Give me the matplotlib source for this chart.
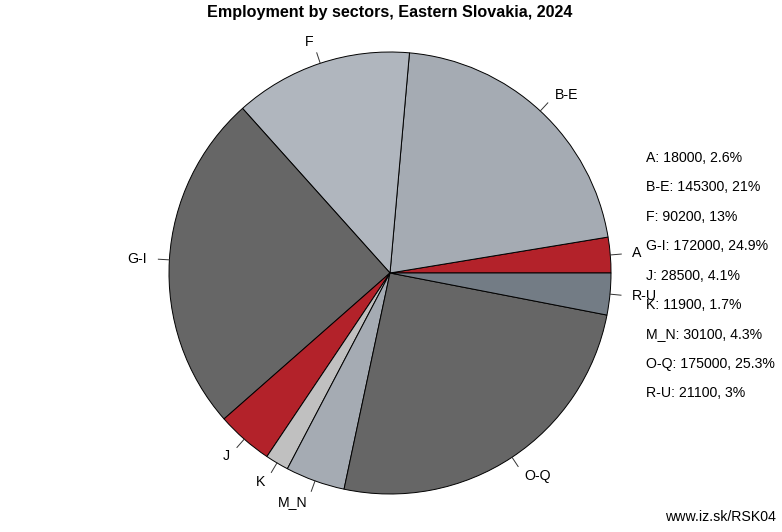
import numpy as np
import matplotlib
matplotlib.use("Agg")
import matplotlib.pyplot as plt

plt.rcParams['font.family'] = ['Liberation Sans', 'DejaVu Sans']

sectors = ["A", "B-E", "F", "G-I", "J", "K", "M_N", "O-Q", "R-U"]
employed = [18000, 145300, 90200, 172000, 28500, 11900, 30100, 175000, 21100]
shares = ["2.6%", "21%", "13%", "24.9%", "4.1%", "1.7%", "4.3%", "25.3%", "3%"]
colors = ["#b3222a", "#a5abb3", "#b0b6be", "#666666", "#b3222a",
          "#c0c0c0", "#a5abb3", "#666666", "#737c85"]

W, H = 782, 532
fig = plt.figure(figsize=(W / 100, H / 100), dpi=100)
ax = fig.add_axes([0, 0, 1, 1])

cx, cy, r = 390, H - 273, 221
wedges, _ = ax.pie(employed, colors=colors, startangle=0, counterclock=True,
                   center=(cx, cy), radius=r, frame=True,
                   wedgeprops=dict(edgecolor="black", linewidth=0.7))
ax.set_xlim(0, W)
ax.set_ylim(0, H)
ax.set_aspect("equal")
ax.axis("off")

# R-style labels: tick from r to 1.05r, text at 1.1r
for w, lab in zip(wedges, sectors):
    a = np.deg2rad((w.theta1 + w.theta2) / 2)
    c, s = np.cos(a), np.sin(a)
    ax.plot([cx + r * c, cx + 1.05 * r * c], [cy + r * s, cy + 1.05 * r * s],
            color="#333333", lw=0.7)
    ax.text(cx + 1.1 * r * c, cy + 1.1 * r * s, lab, fontsize=10.2,
            ha="left" if c > 0 else "right", va="center")

for i, (lab, v, sh) in enumerate(zip(sectors, employed, shares)):
    ax.text(646, H - (158 + i * 29.4), f"{lab}: {v}, {sh}", fontsize=10.2,
            ha="left", va="center")

ax.text(390, H - 12, "Employment by sectors, Eastern Slovakia, 2024",
        fontsize=11.6, fontweight="bold", ha="center", va="center")
ax.text(776, H - 517, "www.iz.sk/RSK04", fontsize=10.2, ha="right", va="center")

fig.savefig("out.png", dpi=100)
